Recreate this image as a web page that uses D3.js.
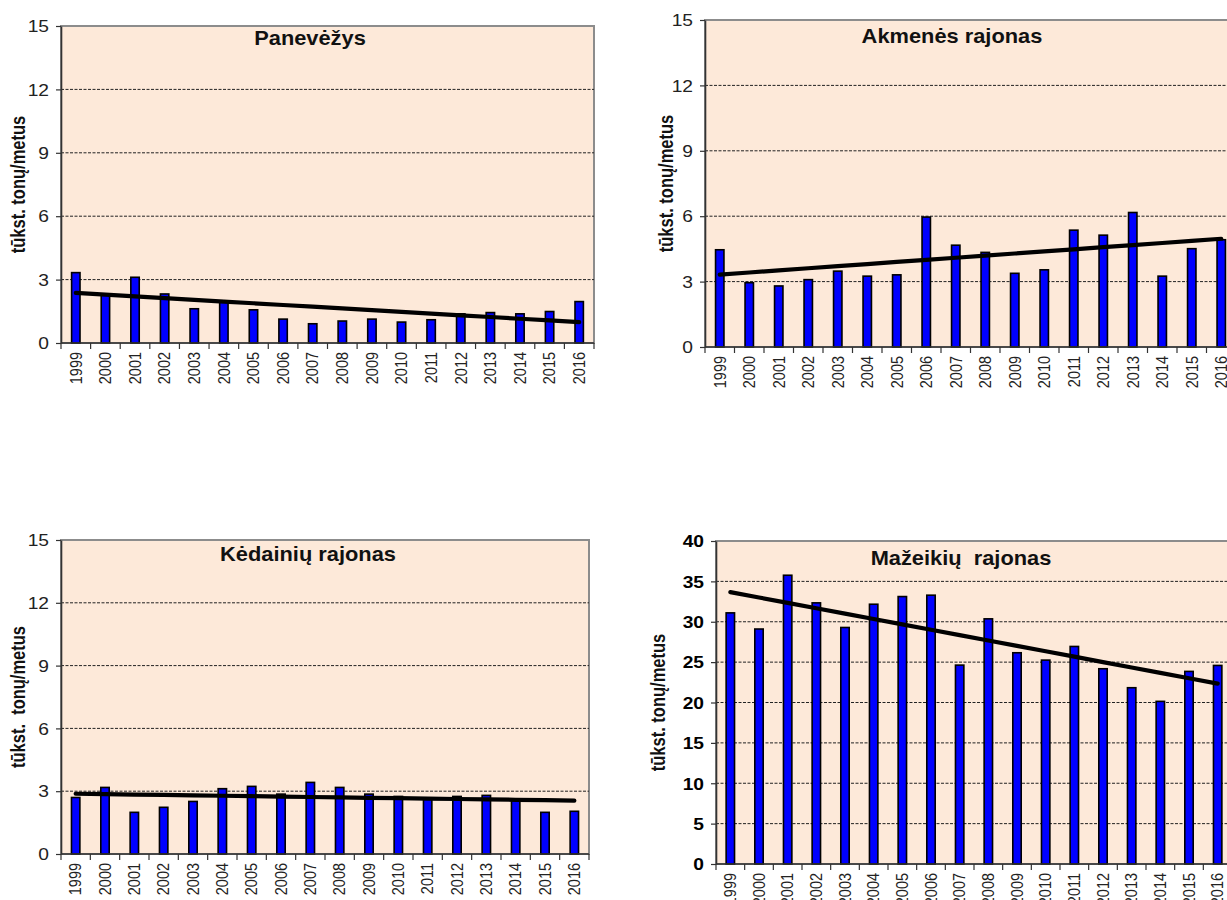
<!DOCTYPE html>
<html>
<head>
<meta charset="utf-8">
<script src="https://cdn.jsdelivr.net/npm/d3@7"></script>
<style>
  body { margin: 0; background: #fff; overflow: hidden; }
  svg { display: block; font-family: Arial, "Liberation Sans", sans-serif; }
</style>
</head>
<body>
<svg id="chart" width="1227" height="900"></svg>
<script>
// Annual emissions, thousand tonnes per year, 1999–2016
const years = ["1999","2000","2001","2002","2003","2004","2005","2006","2007",
               "2008","2009","2010","2011","2012","2013","2014","2015","2016"];

const panevezys = [3.33, 2.32, 3.11, 2.32, 1.62, 1.96, 1.57, 1.13, 0.91,
                   1.04, 1.13, 0.99, 1.10, 1.38, 1.44, 1.38, 1.49, 1.96];
const akmenes   = [4.46, 2.95, 2.80, 3.09, 3.48, 3.25, 3.31, 5.96, 4.67,
                   4.34, 3.38, 3.54, 5.36, 5.13, 6.17, 3.25, 4.51, 4.92];
const kedainiai = [2.70, 3.18, 1.99, 2.23, 2.51, 3.12, 3.23, 2.86, 3.42,
                   3.18, 2.86, 2.75, 2.65, 2.75, 2.80, 2.60, 1.99, 2.04];
const mazeikiai = [31.1, 29.1, 35.76, 32.34, 29.29, 32.17, 33.12, 33.29, 24.63,
                   30.36, 26.16, 25.25, 26.94, 24.18, 21.83, 20.14, 23.85, 24.59];

const ticksSmall = [0, 3, 6, 9, 12, 15];
const ticksLarge = [0, 5, 10, 15, 20, 25, 30, 35, 40];

const panelTitles = ["Panevėžys", "Akmenės rajonas", "Kėdainių rajonas", "Mažeikių  rajonas"];
const unitLabels  = ["tūkst. tonų/metus", "tūkst. tonų/metus", "tūkst.  tonų/metus", "tūkst. tonų/metus"];

const svg = d3.select("#chart");
const STRETCH = 1.2;   // glyphs in this layout run a little wide

const panels = [
  { title: panelTitles[0], unit: unitLabels[0], values: panevezys, ticks: ticksSmall,
    left: 61, right: 594, top: 26, bottom: 343, bold: false, unitX: 18, titleX: 310, titleY: 45 },
  { title: panelTitles[1], unit: unitLabels[1], values: akmenes, ticks: ticksSmall,
    left: 705, right: 1236, top: 20, bottom: 347, bold: false, unitX: 666, titleX: 952, titleY: 43 },
  { title: panelTitles[2], unit: unitLabels[2], values: kedainiai, ticks: ticksSmall,
    left: 61, right: 589, top: 540, bottom: 854, bold: false, unitX: 18, titleX: 308, titleY: 561 },
  { title: panelTitles[3], unit: unitLabels[3], values: mazeikiai, ticks: ticksLarge,
    left: 716, right: 1232, top: 541, bottom: 864, bold: true, unitX: 658, titleX: 961, titleY: 565 }
];

function linearFit(vals) {
  const n = vals.length;
  const mx = (n - 1) / 2;
  const my = d3.mean(vals);
  let sxy = 0, sxx = 0;
  vals.forEach((v, i) => { sxy += (i - mx) * (v - my); sxx += (i - mx) * (i - mx); });
  const b = sxy / sxx;
  return i => my + b * (i - mx);
}

function drawPanel(p) {
  const g = svg.append("g");
  const yMax = d3.max(p.ticks);
  const x = d3.scaleBand().domain(years).range([p.left, p.right]);
  const y = d3.scaleLinear().domain([0, yMax]).range([p.bottom, p.top]);
  const cx = d => x(d) + x.bandwidth() / 2;

  // plot area
  g.append("rect")
    .attr("x", p.left).attr("y", p.top)
    .attr("width", p.right - p.left).attr("height", p.bottom - p.top)
    .attr("fill", "#FDE9D9")
    .attr("stroke", "#8c8c8c").attr("stroke-width", 2);

  // dashed grid lines
  g.selectAll("line.grid")
    .data(p.ticks.filter(t => t > 0 && t < yMax))
    .join("line")
    .attr("class", "grid")
    .attr("x1", p.left).attr("x2", p.right)
    .attr("y1", d => y(d)).attr("y2", d => y(d))
    .attr("stroke", "#222").attr("stroke-width", 1)
    .attr("stroke-dasharray", "3,1.5");

  // bars
  const bw = 8.4;
  g.selectAll("rect.bar")
    .data(p.values)
    .join("rect")
    .attr("class", "bar")
    .attr("x", (d, i) => cx(years[i]) - bw / 2)
    .attr("y", d => y(d))
    .attr("width", bw)
    .attr("height", d => y(0) - y(d))
    .attr("fill", "#0000ff")
    .attr("stroke", "#000").attr("stroke-width", 1.6);

  // linear trend line
  const fit = linearFit(p.values);
  g.append("path")
    .datum(years.map((yr, i) => [cx(yr), y(fit(i))]))
    .attr("d", d3.line())
    .attr("fill", "none")
    .attr("stroke", "#000").attr("stroke-width", 4.2)
    .attr("stroke-linecap", "round");

  // y axis
  const yAxis = g.append("g")
    .attr("transform", `translate(${p.left},0)`)
    .call(d3.axisLeft(y).tickValues(p.ticks).tickSize(5).tickSizeOuter(0));
  yAxis.select(".domain").attr("stroke", "#333").attr("stroke-width", 1.6);
  yAxis.selectAll(".tick line").attr("stroke", "#333").attr("stroke-width", 1.2);
  yAxis.selectAll(".tick text")
    .attr("x", 0).attr("dy", "0.36em")
    .attr("transform", `translate(-12,0) scale(${STRETCH},1)`)
    .attr("fill", p.bold ? "#000" : "#222")
    .attr("font-size", 16)
    .attr("font-weight", p.bold ? "bold" : "normal")
    .attr("font-family", "Arial, 'Liberation Sans', sans-serif");

  // x axis line with ticks at category boundaries
  const xAxis = g.append("g");
  xAxis.append("line")
    .attr("x1", p.left).attr("x2", p.right)
    .attr("y1", p.bottom).attr("y2", p.bottom)
    .attr("stroke", "#333").attr("stroke-width", 1.6);
  const bounds = years.map(d => x(d)).concat([p.right]);
  xAxis.selectAll("line.xt")
    .data(bounds)
    .join("line")
    .attr("class", "xt")
    .attr("x1", d => d).attr("x2", d => d)
    .attr("y1", p.bottom).attr("y2", p.bottom + 6)
    .attr("stroke", "#333").attr("stroke-width", 1.2);
  xAxis.selectAll("text.yr")
    .data(years)
    .join("text")
    .attr("class", "yr")
    .attr("transform", d => `translate(${cx(d)},${p.bottom + 9}) scale(1.1,1) rotate(-90)`)
    .attr("text-anchor", "end")
    .attr("dy", "0.36em")
    .attr("font-size", 14.5)
    .attr("fill", "#222")
    .text(d => d);

  // panel title
  g.append("text")
    .attr("transform", `translate(${p.titleX},${p.titleY}) scale(1.12,1)`)
    .attr("text-anchor", "middle")
    .attr("font-size", 19.5)
    .attr("font-weight", "bold")
    .attr("fill", "#111")
    .style("white-space", "pre")
    .text(p.title);

  // unit label
  g.append("text")
    .attr("transform", `translate(${p.unitX},${(p.top + p.bottom) / 2}) scale(${STRETCH},1) rotate(-90)`)
    .attr("text-anchor", "middle")
    .attr("dy", "0.36em")
    .attr("font-size", 16.5)
    .attr("font-weight", "bold")
    .attr("fill", "#111")
    .style("white-space", "pre")
    .text(p.unit);
}

panels.forEach(drawPanel);
</script>
</body>
</html>
